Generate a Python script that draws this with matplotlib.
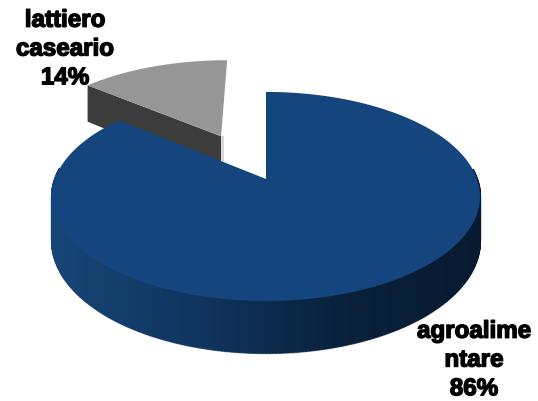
import numpy as np
import matplotlib
matplotlib.use("Agg")
import matplotlib.pyplot as plt
from matplotlib.colors import LinearSegmentedColormap
from matplotlib.patches import Polygon
import matplotlib.patheffects as pe

# Share of each sector, in percent
categories = ["agroalime\nntare", "lattiero\ncaseario"]
shares = [86, 14]
face_colors = ["#14457f", "#969696"]
wall_colors = [["#174575", "#103560", "#09213d", "#071a30"], ["#3c3c3c"]]

plt.rcParams["font.family"] = ["Liberation Sans", "DejaVu Sans"]

fig = plt.figure(figsize=(5.38, 4.02), dpi=100)
ax = fig.add_axes([0, 0, 1, 1])
ax.set_xlim(0, 538)
ax.set_ylim(402, 0)
ax.axis("off")

# Tilted-disc projection: (u, v) in the disc plane, v pointing away from the viewer
CX, CY, SX, SY, TILT, DEPTH = 266, 180, 211, 101.6, 0.167, 43


def project(u, v, lowered=False):
    w = 1 + TILT * v
    x = CX + SX * u / w
    y = CY - SY * v / w
    if lowered:
        y = y + DEPTH / w
    return x, y


def arc(a0, a1, ox=0.0, oy=0.0, n=240):
    t = np.linspace(a0, a1, n)
    return np.sin(t) + ox, np.cos(t) + oy


fractions = np.array(shares) / sum(shares)
blue_end = 2 * np.pi * fractions[0]
full = 2 * np.pi

# Exploded smaller sector sits behind the large one
mid = (blue_end + full) / 2
ox, oy = 0.5 * np.sin(mid) - 0.016, 0.5 * np.cos(mid)
au, av = arc(blue_end, full, ox, oy)
x, y = project(au, av)
ax_, ay_ = project(ox, oy)
xl, yl = project(au[0], av[0], True)
xa, ya = project(ox, oy, True)
ax.add_patch(Polygon([(x[0], y[0]), (xl, yl), (xa, ya), (ax_, ay_)],
                     fc=wall_colors[1][0], ec="none", zorder=1))
ax.add_patch(Polygon([(ax_ + 3, ay_), (ax_ + 3, ya), (ax_, ya), (ax_, ay_)],
                     fc="#d8d8d8", ec="none", zorder=1))
ax.add_patch(Polygon(np.r_[[(ax_, ay_)], np.c_[x, y]],
                     fc=face_colors[1], ec="none", zorder=2))

# Large sector: shaded outer wall, then the top face
cmap = LinearSegmentedColormap.from_list("wall", wall_colors[0])
tu, tv = arc(0, blue_end, n=400)
tx, ty = project(tu, tv)
bx, by = project(tu, tv, True)
xmin, xmax = tx.min(), tx.max()
for i in range(len(tu) - 1):
    if tv[i] > 0.1:
        continue
    c = cmap((tx[i] - xmin) / (xmax - xmin))
    ax.add_patch(Polygon([(tx[i], ty[i]), (tx[i + 1], ty[i + 1]),
                          (bx[i + 1], by[i + 1]), (bx[i], by[i])],
                         fc=c, ec=c, lw=1.5, zorder=3))

# Pale rim just under the bottom edge of the wall
rim = tv < -0.1
ax.plot(bx[rim], by[rim] + 1.0, color="#8c99a8", lw=1.0, zorder=2.5)
apex = project(0, 0)
ax.add_patch(Polygon(np.r_[[apex], np.c_[tx, ty]],
                     fc=face_colors[0], ec="none", zorder=4))

# Sector labels
stroke = [pe.withStroke(linewidth=1.0, foreground="black")]
labels = [f"{c}\n{s}%" for c, s in zip(categories, shares)]
ax.text(474, 361, labels[0], ha="center", va="center", fontsize=17.4, fontweight="bold",
        linespacing=1.32, color="black", path_effects=stroke, zorder=5)
ax.text(65, 50, labels[1], ha="center", va="center", fontsize=17.4, fontweight="bold",
        linespacing=1.32, color="black", path_effects=stroke, zorder=5)

fig.savefig("out.png", dpi=100)
